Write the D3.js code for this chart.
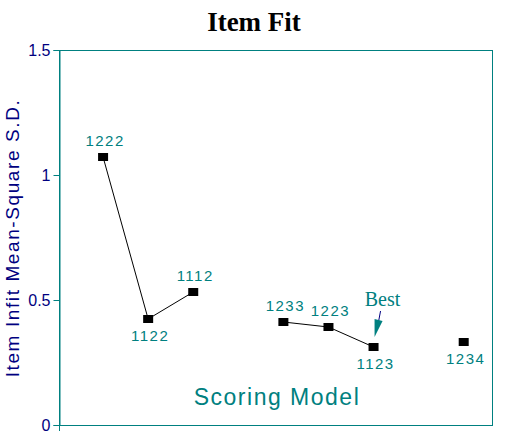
<!DOCTYPE html><html><head><meta charset="utf-8"><script src="https://cdn.jsdelivr.net/npm/d3@7"></script>
<style>body{margin:0;background:#fff}</style></head><body><svg id="c" width="508" height="435"></svg>
<script>
const models=["1222","1122","1112","1233","1223","1123","1234"];
const slots=[1,2,3,5,6,7,9];
const values=[1.072,0.424,0.532,0.412,0.392,0.312,0.332];
const labelPos=["above","below","above","above","above","below","below"];
const groups=[[0,1,2],[3,4,5],[6]];
const yTicks=[0,0.5,1,1.5];
const teal="#008080", navy="#000080";
const svg=d3.select("#c");
const x=d3.scaleLinear().domain([0,9.65]).range([58,493]);
const y=d3.scaleLinear().domain([0,1.5]).range([425,50]);
svg.append("rect").attr("x",59.5).attr("y",50.5).attr("width",433).attr("height",375).attr("fill","none").attr("stroke",teal);
const ya=svg.append("g").attr("transform","translate(59.5,0)").call(d3.axisLeft(y).tickValues(yTicks).tickFormat(d3.format("")).tickSize(6).tickPadding(3));
ya.select(".domain").attr("stroke",teal);
ya.selectAll("line").attr("stroke",teal);
ya.selectAll("text").attr("fill",navy).attr("font-family","Liberation Sans, Arial").attr("font-size",16);
svg.append("line").attr("x1",59.5).attr("x2",59.5).attr("y1",425).attr("y2",431).attr("stroke",teal);
svg.append("text").attr("x",254).attr("y",31).attr("text-anchor","middle").attr("font-family","Liberation Serif, Times New Roman").attr("font-weight","bold").attr("font-size",27).text("Item Fit");
svg.append("text").attr("transform","translate(19,238) rotate(-90)").attr("text-anchor","middle").attr("fill",navy).attr("font-family","Liberation Sans, Arial").attr("font-size",19).attr("letter-spacing",1.6).text("Item Infit Mean-Square S.D.");
svg.append("text").attr("x",277).attr("y",405).attr("text-anchor","middle").attr("fill",teal).attr("font-family","Liberation Sans, Arial").attr("font-size",23).attr("letter-spacing",1.5).text("Scoring Model");
const line=d3.line().x(i=>x(slots[i])).y(i=>y(values[i]));
groups.forEach(g=>{ if(g.length>1) svg.append("path").attr("d",line(g)).attr("fill","none").attr("stroke","#000").attr("stroke-width",1);});
svg.selectAll("rect.m").data(models).enter().append("rect").attr("class","m")
 .attr("x",(d,i)=>x(slots[i])-5).attr("y",(d,i)=>y(values[i])-4).attr("width",10).attr("height",8).attr("fill","#000");
svg.selectAll("text.l").data(models).enter().append("text").attr("class","l")
 .attr("x",(d,i)=>x(slots[i])+2).attr("y",(d,i)=>labelPos[i]==="above"?y(values[i])-11:y(values[i])+22)
 .attr("text-anchor","middle").attr("fill",teal).attr("font-family","Liberation Sans, Arial").attr("font-size",15).attr("letter-spacing",1.5).text(d=>d);
const bx=x(slots[5]), by=y(values[5]);
svg.append("text").attr("x",bx+9).attr("y",by-41).attr("text-anchor","middle").attr("fill",teal).attr("font-family","Liberation Serif, Times New Roman").attr("font-size",20).text("Best");
svg.append("line").attr("x1",bx+7).attr("y1",by-36).attr("x2",bx+4).attr("y2",by-20).attr("stroke",navy);
svg.append("path").attr("d",`M${bx+1},${by-10} L${bx+1},${by-28} L${bx+9},${by-26} Z`).attr("fill",teal);
</script></body></html>
